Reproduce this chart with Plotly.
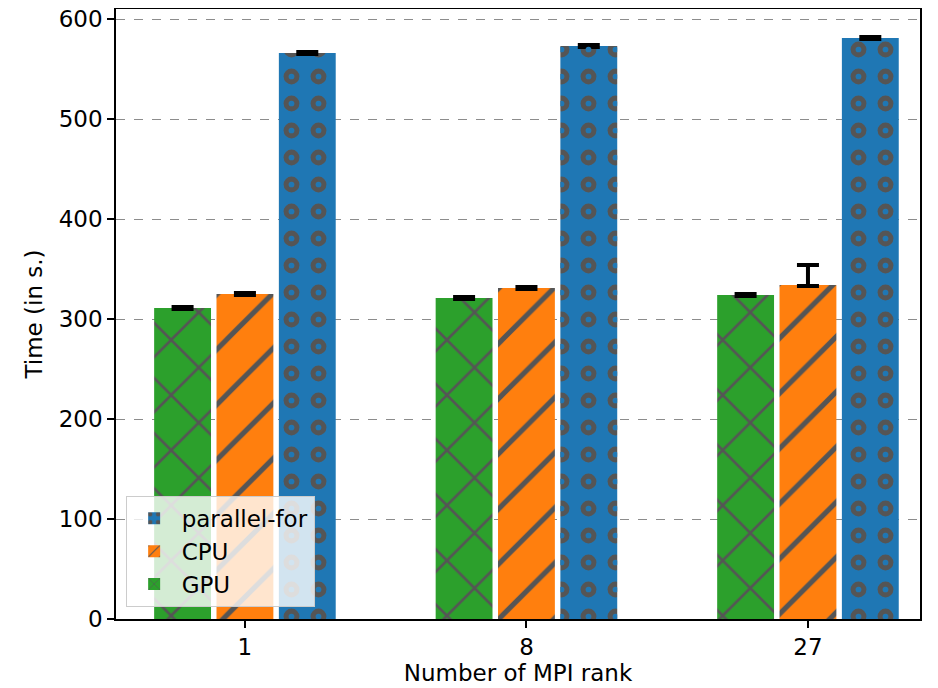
import plotly.graph_objects as go

ranks = ["1", "8", "27"]
gpu = [311, 321, 324]
cpu = [325, 331, 334]
pfor = [566, 573, 581]
gpu_err_plus = [1, 1, 1]
gpu_err_minus = [1, 1, 1]
cpu_err_plus = [1, 1, 20]
cpu_err_minus = [1, 1, 1]
pfor_err_plus = [1, 1, 1]
pfor_err_minus = [1, 1, 1]

xs = list(range(len(ranks)))
slot = 0.2215
w = 0.202
hatch_col = "#555555"
font = "DejaVu Sans"
fs = 23

fig = go.Figure()


def add(name, vals, ep, em, color, shape, size, sol, j):
    fig.add_trace(go.Bar(
        x=xs, y=vals, name=name, width=w, offset=(j - 1) * slot - w / 2,
        marker=dict(color=color, line=dict(width=0),
                    pattern=dict(shape=shape, fillmode="overlay", fgcolor=hatch_col,
                                 bgcolor=color, size=size, solidity=sol, fgopacity=1)),
        error_y=dict(type="data", symmetric=False, array=ep, arrayminus=em,
                     color="black", thickness=4, width=11),
    ))


add("GPU", gpu, gpu_err_plus, gpu_err_minus, "#2ca02c", "x", 39, 0.13, 0)
add("CPU", cpu, cpu_err_plus, cpu_err_minus, "#ff7f0e", "/", 39, 0.13, 1)
add("parallel-for", pfor, pfor_err_plus, pfor_err_minus, "#1f77b4", ".", 27, 0.27, 2)
# ring holes for the circle hatch
fig.add_trace(go.Bar(
    x=xs, y=pfor, width=w, offset=slot - w / 2, showlegend=False, hoverinfo="skip",
    marker=dict(color="#1f77b4", line=dict(width=0),
                pattern=dict(shape=".", fillmode="replace", fgcolor="#1f77b4",
                             size=27, solidity=0.035)),
))

# the page body adds an 8px offset, so the figure is 8px smaller and margins shifted
fig.update_layout(
    width=930, height=680,
    margin=dict(l=108, r=18, t=1, b=69),
    paper_bgcolor="white", plot_bgcolor="white",
    barmode="overlay",
    font=dict(family=font, size=fs, color="black"),
    legend=dict(x=0.012, y=0.02, xanchor="left", yanchor="bottom",
                traceorder="reversed", bgcolor="rgba(255,255,255,0.8)",
                bordercolor="#cccccc", borderwidth=1, font=dict(size=fs),
                itemwidth=45),
    xaxis=dict(range=[-0.458, 2.398], tickmode="array", tickvals=xs, ticktext=ranks,
               showgrid=False, zeroline=False, showline=True, linecolor="black",
               linewidth=1.5, mirror=True, ticks="outside", ticklen=7, tickwidth=1.5,
               tickcolor="black", automargin=False, ticklabeloverflow="allow",
               title=dict(text="Number of MPI rank", font=dict(size=fs), standoff=4)),
    yaxis=dict(range=[0, 610], tickvals=[0, 100, 200, 300, 400, 500, 600],
               showgrid=True, gridcolor="#8c8c8c", griddash="dash", gridwidth=1.2,
               zeroline=False, showline=True, linecolor="black", linewidth=1.5,
               mirror=True, ticks="outside", ticklen=7, tickwidth=1.5, tickcolor="black",
               automargin=False, ticklabeloverflow="allow",
               title=dict(text="Time (in s.)", font=dict(size=fs), standoff=10)),
)

fig.write_html("out.html")
